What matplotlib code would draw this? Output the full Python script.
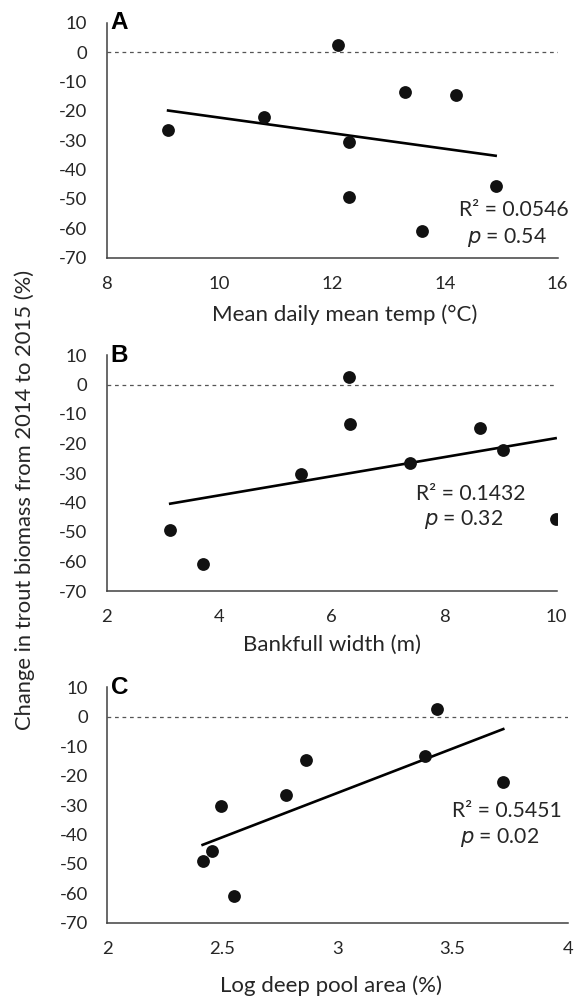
import matplotlib
matplotlib.use('Agg')
import matplotlib.pyplot as plt
import numpy as np

plt.rcParams['font.family'] = ['Lato', 'DejaVu Sans']
plt.rcParams['axes.unicode_minus'] = False

# Change in trout biomass 2014 -> 2015 (%), per site, against three predictors
temp_x = [9.09, 10.80, 12.10, 12.30, 12.30, 13.29, 14.19, 14.90, 13.60]
temp_y = [-26.5, -22.2, 2.5, -30.5, -49.2, -13.5, -14.6, -45.6, -61.0]

width_x = [3.13, 3.71, 5.45, 6.31, 6.32, 7.39, 8.63, 9.05, 9.98]
width_y = [-49.2, -61.0, -30.5, 2.5, -13.5, -26.5, -14.6, -22.2, -45.6]

pool_x = [2.414, 2.455, 2.495, 2.550, 2.776, 2.863, 3.379, 3.431, 3.720]
pool_y = [-49.2, -45.6, -30.5, -61.0, -26.5, -14.6, -13.5, 2.5, -22.2]

y_ticks = [10, 0, -10, -20, -30, -40, -50, -60, -70]

panels = [
    dict(letter='A', x=temp_x, y=temp_y, xlim=(8, 16), xticks=[8, 10, 12, 14, 16],
         xticklabels=['8', '10', '12', '14', '16'],
         xlabel='Mean daily mean temp (°C)', r2='R² = 0.0546', p='0.54',
         rect=[0.182, 0.7423, 0.7696, 0.235], xlab=(0.527, -0.197),
         r2pos=(0.781, 0.203), ppos=(0.799, 0.088)),
    dict(letter='B', x=width_x, y=width_y, xlim=(2, 10), xticks=[2, 4, 6, 8, 10],
         xticklabels=['2', '4', '6', '8', '10'],
         xlabel='Bankfull width (m)', r2='R² = 0.1432', p='0.32',
         rect=[0.182, 0.409, 0.768, 0.236], xlab=(0.5, -0.186),
         r2pos=(0.687, 0.411), ppos=(0.705, 0.305)),
    dict(letter='C', x=pool_x, y=pool_y, xlim=(2, 4), xticks=[2, 2.5, 3, 3.5, 4],
         xticklabels=['2', '2.5', '3', '3.5', '4'],
         xlabel='Log deep pool area (%)', r2='R² = 0.5451', p='0.02',
         rect=[0.1831, 0.0773, 0.7857, 0.2354], xlab=(0.485, -0.222),
         r2pos=(0.748, 0.475), ppos=(0.766, 0.361)),
]

fig = plt.figure(figsize=(5.86, 10), dpi=100)
spine_col = '#404040'
txt_col = '#262626'

for pn in panels:
    ax = fig.add_axes(pn['rect'])
    x = np.array(pn['x'])
    y = np.array(pn['y'])

    ax.axhline(0, color='#555555', lw=0.9, ls=(0, (3, 3)), zorder=1)

    # least squares trend line over the data range
    slope, icpt = np.polyfit(x, y, 1)
    xs = np.array([x.min(), x.max()])
    ax.plot(xs, slope * xs + icpt, color='black', lw=1.9, zorder=2)

    ax.scatter(x, y, s=85, color='#111111', zorder=3, linewidths=0)

    ax.set_xlim(*pn['xlim'])
    ax.set_ylim(-70, 10)
    ax.set_xticks(pn['xticks'])
    ax.set_xticklabels(pn['xticklabels'])
    ax.set_yticks(y_ticks)
    ax.tick_params(length=0, labelsize=13.3, colors=txt_col)
    ax.tick_params(axis='y', pad=14)
    ax.tick_params(axis='x', pad=13)

    for s in ['top', 'right']:
        ax.spines[s].set_visible(False)
    for s in ['left', 'bottom']:
        ax.spines[s].set_color(spine_col)
        ax.spines[s].set_linewidth(1.1)

    ax.set_xlabel(pn['xlabel'], fontsize=16, color=txt_col)
    ax.xaxis.set_label_coords(*pn['xlab'])

    ax.text(0.009, 1.0, pn['letter'], transform=ax.transAxes, fontsize=17.5,
            fontweight='bold', family='Liberation Sans', va='center', ha='left')

    ax.text(pn['r2pos'][0], pn['r2pos'][1], pn['r2'], transform=ax.transAxes,
            fontsize=15.2, va='center', ha='left', color=txt_col)
    ax.text(pn['ppos'][0], pn['ppos'][1], r'$\it{p}$ = ' + pn['p'], transform=ax.transAxes,
            fontsize=15.2, va='center', ha='left', color=txt_col)

fig.text(0.043, 0.5, 'Change in trout biomass from 2014 to 2015 (%)', rotation=90,
         fontsize=15.8, va='center', ha='center', color=txt_col)

plt.savefig('out.png', dpi=100)
